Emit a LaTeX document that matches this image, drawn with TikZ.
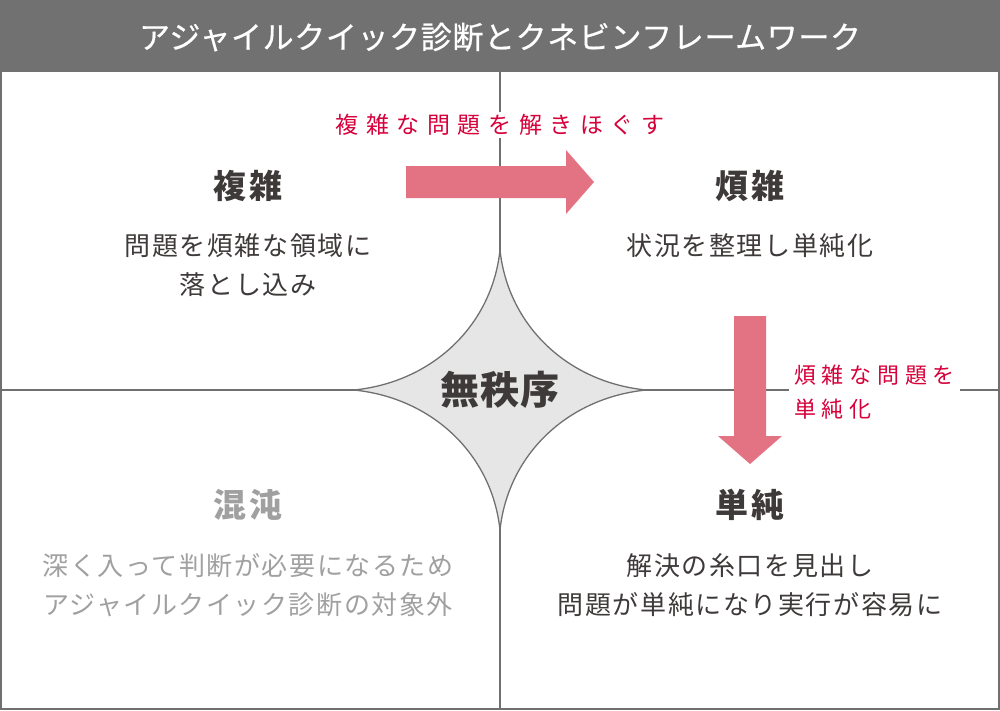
\documentclass[tikz,border=0pt]{standalone}
\usepackage{fontspec}
\setmainfont{Noto Sans CJK JP}
\usetikzlibrary{positioning}

\definecolor{titlegray}{HTML}{717171}
\definecolor{linegray}{HTML}{707070}
\definecolor{textdark}{HTML}{3E3A39}
\definecolor{textlight}{HTML}{A0A0A0}
\definecolor{notered}{HTML}{D7003A}
\definecolor{arrowpink}{HTML}{E37282}
\definecolor{starfill}{HTML}{E6E6E6}

\begin{document}
\begin{tikzpicture}[x=1pt, y=-1pt]
  \tikzset{
    heading/.style={font=\fontsize{33}{33}\selectfont\bfseries\addfontfeatures{LetterSpace=7}, text=textdark, inner sep=0pt},
    body/.style={font=\fontsize{26}{39}\selectfont\addfontfeatures{LetterSpace=6}, text=textdark, align=center, inner sep=0pt},
    faded/.style={text=textlight},
    note/.style={text=notered, fill=white},
    divider/.style={draw=linegray, line width=1.6pt},
    bigarrow/.style={fill=arrowpink, draw=none},
  }
  \useasboundingbox (0,0) rectangle (1000,710);

  % title bar
  \fill[titlegray] (0,0) rectangle (1000,72);
  \node[text=white, font=\fontsize{31}{31}\selectfont\addfontfeatures{LetterSpace=2,FakeBold=0.6}] (title) at (500,37) {アジャイルクイック診断とクネビンフレームワーク};

  % frame and quadrants
  \draw[linegray, line width=2.2pt] (1,72) -- (1,709) -- (999,709) -- (999,72);
  \coordinate (ntop) at (500,72);
  \coordinate (nbot) at (500,710);
  \coordinate (wmid) at (0,390);
  \coordinate (emid) at (1000,390);
  \draw[divider] (ntop) -- (nbot);
  \draw[divider] (wmid) -- (emid);

  % disorder
  \filldraw[fill=starfill, draw=linegray, line width=1.3pt]
    (500,250) .. controls (508,325) and (567,382) .. (646,390)
    .. controls (567,398) and (508,455) .. (500,530)
    .. controls (492,455) and (433,398) .. (354,390)
    .. controls (433,382) and (492,325) .. (500,250) -- cycle;
  \node[heading, font=\fontsize{39}{39}\selectfont\bfseries\addfontfeatures{LetterSpace=2}] (disorder) at (500,390) {無秩序};

  % arrows
  \fill[bigarrow] (406,166) -- (566,166) -- (566,150) -- (594,182) -- (566,214) -- (566,198) -- (406,198) -- cycle;
  \fill[bigarrow] (734,316) -- (766,316) -- (766,436) -- (782,436) -- (750,464) -- (718,436) -- (734,436) -- cycle;
  \node[note, font=\fontsize{23}{23}\selectfont\addfontfeatures{LetterSpace=33}, inner xsep=6pt, inner ysep=2pt] (untangle) at (500,125) {複雑な問題を解きほぐす};
  \node[note, font=\fontsize{22}{34}\selectfont\addfontfeatures{LetterSpace=26}, align=left, anchor=west, inner xsep=5pt, inner ysep=2pt] (simplify) at (789,392) {煩雑な問題を\\単純化};

  % quadrants
  \node[heading] (complex) at (248,186) {複雑};
  \node[body] (complextxt) at (248,265) {問題を煩雑な領域に\\落とし込み};
  \node[heading] (complicated) at (750,186) {煩雑};
  \node[body] (complicatedtxt) at (750,246) {状況を整理し単純化};
  \node[heading, faded] (chaotic) at (248,505) {混沌};
  \node[body, faded] (chaotictxt) at (248,585) {深く入って判断が必要になるため\\アジャイルクイック診断の対象外};
  \node[heading] (clear) at (750,505) {単純};
  \node[body] (cleartxt) at (750,585) {解決の糸口を見出し\\問題が単純になり実行が容易に};
\end{tikzpicture}
\end{document}
